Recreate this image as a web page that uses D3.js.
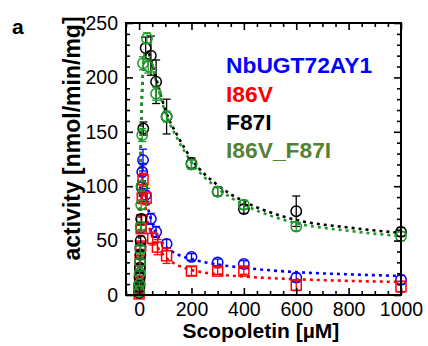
<!DOCTYPE html>
<html><head><meta charset="utf-8">
<script src="https://cdn.jsdelivr.net/npm/d3@7"></script>
<style>
html,body{margin:0;padding:0;background:#fff;}
svg{display:block;font-family:"Liberation Sans",Arial,sans-serif;}
</style></head>
<body><svg id="c" width="428" height="346"></svg>
<script>
// ---- data ----
const seriesNames = ["NbUGT72AY1", "I86V", "F87I", "I86V_F87I"];
const seriesColors = ["#0000ff", "#ff0000", "#000000", "#1f9a2a"];
const legendColors = ["#0000ff", "#ff0000", "#000000", "#548235"];
const xTicks = [0, 200, 400, 600, 800, 1000];
const yTicks = [0, 50, 100, 150, 200, 250];

const blueConc = [0, 1, 2, 3, 5, 7, 10, 12, 15, 25, 45, 65, 105, 200, 300, 400, 600, 1000];
const blueAct  = [2, 10, 18, 30, 44, 62, 99, 113, 124, 92, 70, 58, 47, 35, 30, 28.5, 16, 14];
const blueErr  = [1, 2, 2, 3, 3, 4, 5, 8, 10, 6, 5, 5, 4, 3, 3, 3, 4, 4];

const redConc = [0, 1, 2, 3, 4, 6, 8, 10, 12, 15, 27, 52, 70, 105, 200, 300, 400, 600, 1000];
const redAct  = [1, 6, 13, 22, 32, 45, 61, 69, 89, 106, 89, 52, 44, 36, 22, 22, 22, 9, 7.7];
const redErr  = [1, 1, 2, 2, 3, 3, 3, 4, 5, 6, 6, 6, 7, 7, 4, 3, 3, 5, 5];

const blackConc = [0, 1, 2, 3, 5, 6, 8, 10, 16, 25, 45, 65, 105, 200, 300, 400, 600, 1000];
const blackAct  = [2, 8, 16, 25, 37, 50, 70, 100, 153, 227, 220, 196, 164, 121, 95, 79, 77, 58];
const blackErr  = [1, 2, 2, 3, 3, 4, 4, 5, 6, 10, 18, 20, 16, 5, 4, 4, 14, 4];

const greenConc = [0, 1, 2, 3, 4, 6, 8, 10, 12, 15, 30, 35, 65, 105, 200, 300, 400, 600, 1000];
const greenAct  = [3, 10, 20, 30, 42, 63, 83, 100, 147, 213, 236, 210, 185, 164, 120, 95, 83, 63, 54];
const greenErr  = [2, 2, 2, 3, 3, 3, 4, 5, 6, 6, 5, 6, 6, 5, 4, 4, 4, 4, 4];

// fitted curves
const blueFitX = [0, 2, 4, 6, 8, 11, 15, 20, 30, 45, 65, 100, 150, 200, 300, 400, 600, 800, 1000];
const blueFitY = [0, 45, 75, 95, 107, 113, 110, 102, 85, 70, 57, 45, 37, 33, 28, 25, 21, 19, 17.5];
const redFitX  = [0, 2, 4, 6, 8, 11, 15, 20, 30, 50, 70, 100, 150, 200, 300, 400, 600, 800, 1000];
const redFitY  = [0, 40, 68, 85, 95, 98, 95, 87, 72, 54, 44, 35, 27, 23, 19, 17, 14.5, 13, 12];
const blackFitX = [0, 2, 5, 8, 11, 14, 18, 25, 35, 50, 70, 100, 150, 200, 300, 400, 500, 600, 800, 1000];
const blackFitY = [0, 55, 115, 155, 183, 200, 213, 222, 222, 212, 195, 170, 145, 125, 101, 86, 76, 69, 62, 57];
const greenFitX = [0, 2, 5, 8, 11, 14, 18, 25, 35, 50, 70, 100, 150, 200, 300, 400, 500, 600, 800, 1000];
const greenFitY = [0, 60, 120, 158, 185, 203, 216, 224, 222, 210, 192, 168, 142, 122, 98, 83, 73, 66, 59, 54];

// ---- build ----
const series = [
  {conc: blueConc, act: blueAct, err: blueErr, fx: blueFitX, fy: blueFitY, shape: "circle"},
  {conc: redConc, act: redAct, err: redErr, fx: redFitX, fy: redFitY, shape: "square"},
  {conc: blackConc, act: blackAct, err: blackErr, fx: blackFitX, fy: blackFitY, shape: "circle"},
  {conc: greenConc, act: greenAct, err: greenErr, fx: greenFitX, fy: greenFitY, shape: "circle"}
];
series.forEach((s, i) => { s.name = seriesNames[i]; s.color = seriesColors[i]; });

const L = 126, R = 401, T = 23, B = 295;
const x = d3.scaleLinear().domain([-50, 1000]).range([L, R]);
const y = d3.scaleLinear().domain([0, 250]).range([B, T]);
const svg = d3.select("#c");

// fits
const line = d3.line().x(d => x(d[0])).y(d => y(d[1])).curve(d3.curveMonotoneX);
const gFit = svg.append("g");
[2, 3, 0, 1].forEach(i => {
  const s = series[i];
  gFit.append("path")
    .datum(d3.zip(s.fx, s.fy))
    .attr("d", line)
    .attr("fill", "none")
    .attr("stroke", s.color)
    .attr("stroke-width", 2.6)
    .attr("stroke-dasharray", "3,4");
});

// points
const gPts = svg.append("g");
series.forEach(s => {
  const g = gPts.append("g");
  const pts = s.conc.map((c, k) => ({c, v: s.act[k], e: s.err[k]}));
  pts.forEach(p => {
    const px = x(p.c), py = y(p.v);
    const y1 = y(Math.max(0, p.v - p.e)), y2 = y(p.v + p.e);
    g.append("line").attr("x1", px).attr("x2", px).attr("y1", y1).attr("y2", y2)
      .attr("stroke", s.color).attr("stroke-width", 1.3);
    [y1, y2].forEach(yy => g.append("line").attr("x1", px - 4).attr("x2", px + 4)
      .attr("y1", yy).attr("y2", yy).attr("stroke", s.color).attr("stroke-width", 1.3));
    if (s.shape === "circle") {
      g.append("circle").attr("cx", px).attr("cy", py).attr("r", 5.2)
        .attr("fill", "none").attr("stroke", s.color).attr("stroke-width", 1.5);
    } else {
      g.append("rect").attr("x", px - 5).attr("y", py - 5).attr("width", 10).attr("height", 10)
        .attr("fill", "none").attr("stroke", s.color).attr("stroke-width", 1.5);
    }
  });
});

// axes
const fontTick = 19.5;
function styleAx(g) { g.select(".domain").remove(); g.selectAll("line").attr("stroke", "#000").attr("stroke-width", 1.6); }
const xMinor = d3.range(-50, 1001, 50).filter(v => v % 200 !== 0);
const yMinor = d3.range(0, 251, 10).filter(v => v % 50 !== 0);

svg.append("g").attr("transform", `translate(0,${B})`)
  .call(d3.axisBottom(x).tickValues(xTicks).tickSize(-7).tickPadding(7).tickFormat(d3.format("d")))
  .call(styleAx).call(g => g.selectAll("text").attr("font-size", fontTick).attr("fill", "#000").attr("font-family", "Liberation Sans, Arial, sans-serif"));
svg.append("g").attr("transform", `translate(0,${B})`)
  .call(d3.axisBottom(x).tickValues(xMinor).tickSize(-4).tickFormat("")).call(styleAx);
svg.append("g").attr("transform", `translate(0,${T})`)
  .call(d3.axisTop(x).tickValues(xTicks).tickSize(-7).tickFormat("")).call(styleAx);
svg.append("g").attr("transform", `translate(0,${T})`)
  .call(d3.axisTop(x).tickValues(xMinor).tickSize(-4).tickFormat("")).call(styleAx);

svg.append("g").attr("transform", `translate(${L},0)`)
  .call(d3.axisLeft(y).tickValues(yTicks).tickSize(-7).tickPadding(8).tickFormat(d3.format("d")))
  .call(styleAx).call(g => g.selectAll("text").attr("font-size", fontTick).attr("fill", "#000").attr("font-family", "Liberation Sans, Arial, sans-serif"));
svg.append("g").attr("transform", `translate(${L},0)`)
  .call(d3.axisLeft(y).tickValues(yMinor).tickSize(-4).tickFormat("")).call(styleAx);
svg.append("g").attr("transform", `translate(${R},0)`)
  .call(d3.axisRight(y).tickValues(yTicks).tickSize(-7).tickFormat("")).call(styleAx);
svg.append("g").attr("transform", `translate(${R},0)`)
  .call(d3.axisRight(y).tickValues(yMinor).tickSize(-4).tickFormat("")).call(styleAx);

svg.append("rect").attr("x", L).attr("y", T).attr("width", R - L).attr("height", B - T)
  .attr("fill", "none").attr("stroke", "#000").attr("stroke-width", 2);

// titles
svg.append("text").attr("x", 261).attr("y", 338).attr("text-anchor", "middle")
  .attr("font-weight", "bold").attr("font-size", 21).text("Scopoletin [µM]");
svg.append("text").attr("transform", `translate(80,138.5) rotate(-90)`)
  .attr("text-anchor", "middle").attr("font-weight", "bold").attr("font-size", 23)
  .text("activity [nmol/min/mg]");
svg.append("text").attr("x", 12).attr("y", 34).attr("font-weight", "bold").attr("font-size", 21).text("a");

// legend
const legY = [73, 101.5, 130, 158];
seriesNames.forEach((n, i) => {
  svg.append("text").attr("x", 226).attr("y", legY[i]).attr("font-weight", "bold")
    .attr("font-size", 22.8).attr("fill", legendColors[i]).text(n);
});
</script></body></html>
